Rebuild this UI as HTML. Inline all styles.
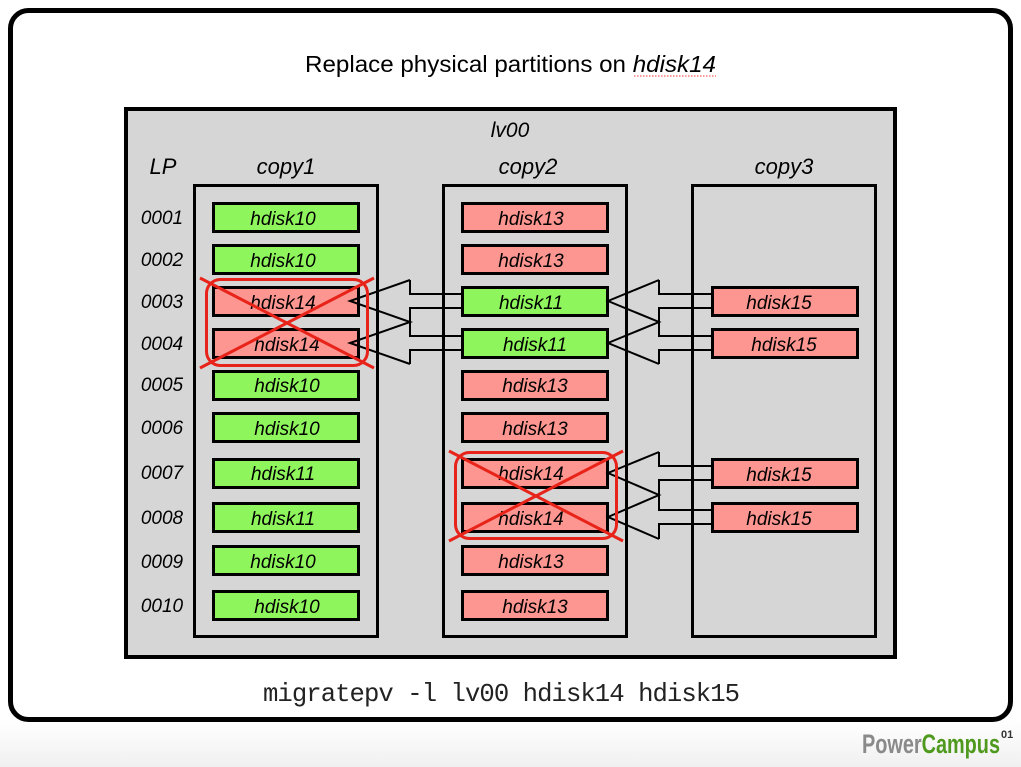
<!DOCTYPE html>
<html><head><meta charset="utf-8"><style>
html,body{margin:0;padding:0;background:#fff;}
svg{display:block;}
text{font-family:"Liberation Sans",Arial,sans-serif;}
</style></head><body>
<svg width="1021" height="767" viewBox="0 0 1021 767" xmlns="http://www.w3.org/2000/svg">
<defs><linearGradient id="g" x1="0" y1="0" x2="0" y2="1"><stop offset="0" stop-color="#ffffff"/><stop offset="1" stop-color="#f0f0f0"/></linearGradient></defs>
<rect x="0" y="720" width="1021" height="47" fill="url(#g)"/>
<rect x="10.5" y="10.5" width="1000" height="709" rx="18" fill="#fff" stroke="#000" stroke-width="5"/>
<text x="305" y="72" font-size="23" textLength="411" lengthAdjust="spacingAndGlyphs">Replace physical partitions on <tspan font-style="italic">hdisk14</tspan></text>
<line x1="634" y1="76" x2="716" y2="76" stroke="#e33" stroke-width="1" stroke-dasharray="1.5,1.5"/>
<rect x="126" y="109" width="769" height="548" fill="#d6d6d6" stroke="#000" stroke-width="4"/>
<text x="510" y="137" font-size="21" font-style="italic" text-anchor="middle">lv00</text>
<text x="163" y="174" font-size="22" font-style="italic" text-anchor="middle">LP</text>
<text x="286" y="174" font-size="22" font-style="italic" text-anchor="middle">copy1</text>
<text x="528" y="174" font-size="22" font-style="italic" text-anchor="middle">copy2</text>
<text x="784" y="174" font-size="22" font-style="italic" text-anchor="middle">copy3</text>
<rect x="194.5" y="185.5" width="183" height="451" fill="none" stroke="#000" stroke-width="3"/>
<rect x="443.5" y="185.5" width="183" height="451" fill="none" stroke="#000" stroke-width="3"/>
<rect x="692.5" y="185.5" width="183" height="451" fill="none" stroke="#000" stroke-width="3"/>
<g font-size="19" font-style="italic" text-anchor="middle">
<text x="162" y="224">0001</text><text x="162" y="266">0002</text><text x="162" y="308">0003</text><text x="162" y="350">0004</text><text x="162" y="391">0005</text><text x="162" y="434">0006</text><text x="162" y="479">0007</text><text x="162" y="524">0008</text><text x="162" y="568">0009</text><text x="162" y="612">0010</text>
</g>
<g stroke="#000" stroke-width="3">
<rect x="213.5" y="203.5" width="145" height="28" fill="#8ef65c"/>
<rect x="213.5" y="245.5" width="145" height="28" fill="#8ef65c"/>
<rect x="213.5" y="287.5" width="145" height="28" fill="#fd9690"/>
<rect x="213.5" y="329.5" width="145" height="28" fill="#fd9690"/>
<rect x="213.5" y="371.5" width="145" height="28" fill="#8ef65c"/>
<rect x="213.5" y="413.5" width="145" height="28" fill="#8ef65c"/>
<rect x="213.5" y="459.5" width="145" height="28" fill="#8ef65c"/>
<rect x="213.5" y="503.5" width="145" height="28" fill="#8ef65c"/>
<rect x="213.5" y="546.5" width="145" height="28" fill="#8ef65c"/>
<rect x="213.5" y="591.5" width="145" height="28" fill="#8ef65c"/>
<rect x="462.5" y="203.5" width="145" height="28" fill="#fd9690"/>
<rect x="462.5" y="245.5" width="145" height="28" fill="#fd9690"/>
<rect x="462.5" y="287.5" width="145" height="28" fill="#8ef65c"/>
<rect x="462.5" y="329.5" width="145" height="28" fill="#8ef65c"/>
<rect x="462.5" y="371.5" width="145" height="28" fill="#fd9690"/>
<rect x="462.5" y="413.5" width="145" height="28" fill="#fd9690"/>
<rect x="462.5" y="459.5" width="145" height="28" fill="#fd9690"/>
<rect x="462.5" y="503.5" width="145" height="28" fill="#fd9690"/>
<rect x="462.5" y="546.5" width="145" height="28" fill="#fd9690"/>
<rect x="462.5" y="591.5" width="145" height="28" fill="#fd9690"/>
<rect x="712.5" y="287.5" width="145" height="28" fill="#fd9690"/>
<rect x="712.5" y="329.5" width="145" height="28" fill="#fd9690"/>
<rect x="712.5" y="459.5" width="145" height="28" fill="#fd9690"/>
<rect x="712.5" y="503.5" width="145" height="28" fill="#fd9690"/>
</g>
<g font-size="19" font-style="italic" text-anchor="middle">
<text x="283" y="225">hdisk10</text><text x="283" y="267">hdisk10</text><text x="283" y="309">hdisk14</text><text x="287" y="351">hdisk14</text><text x="287" y="392">hdisk10</text><text x="287" y="435">hdisk10</text><text x="283" y="480">hdisk11</text><text x="283" y="525">hdisk11</text><text x="283" y="568">hdisk10</text><text x="287" y="613">hdisk10</text>
<text x="531" y="225">hdisk13</text><text x="531" y="267">hdisk13</text><text x="531" y="309">hdisk11</text><text x="535" y="351">hdisk11</text><text x="535" y="392">hdisk13</text><text x="535" y="435">hdisk13</text><text x="531" y="480">hdisk14</text><text x="531" y="525">hdisk14</text><text x="531" y="568">hdisk13</text><text x="535" y="613">hdisk13</text>
<text x="779" y="309">hdisk15</text><text x="784" y="351">hdisk15</text><text x="779" y="481">hdisk15</text><text x="779" y="525">hdisk15</text>
</g>
<g fill="none" stroke="#000" stroke-width="2">
<polyline points="410,280 350,301 410,322 350,343 410,364"/>
<path d="M410,280V294H462M462,308H410V336H462M462,350H410V364"/>
<polyline points="659,280 608,301 659,322 608,343 659,364"/>
<path d="M659,280V294H711M711,308H659V336H711M711,350H659V364"/>
<polyline points="659,452 608,473 659,495 608,517 659,539"/>
<path d="M659,452V466H711M711,480H659V510H711M711,524H659V539"/>
</g>
<g fill="none" stroke="#e8231a" stroke-width="3">
<rect x="206.5" y="279.5" width="161" height="86" rx="14"/>
<line x1="200" y1="278" x2="374" y2="368"/><line x1="374" y1="278" x2="200" y2="368"/>
<rect x="455.5" y="452.5" width="161" height="86" rx="14"/>
<line x1="449" y1="451" x2="623" y2="541"/><line x1="623" y1="451" x2="449" y2="541"/>
</g>
<text x="263" y="701" font-size="25.6" fill="#222" textLength="477" style="font-family:'Liberation Mono',monospace">migratepv -l lv00 hdisk14 hdisk15</text>
<text x="862" y="753" font-size="27" font-weight="bold" style="font-family:'Liberation Sans Narrow','Liberation Sans',sans-serif" textLength="138" lengthAdjust="spacingAndGlyphs"><tspan fill="#8a8a8a">Power</tspan><tspan fill="#4f9a1e">Campus</tspan></text>
<text x="1001" y="738" font-size="11" font-weight="bold" fill="#333">01</text>
</svg>
</body></html>
